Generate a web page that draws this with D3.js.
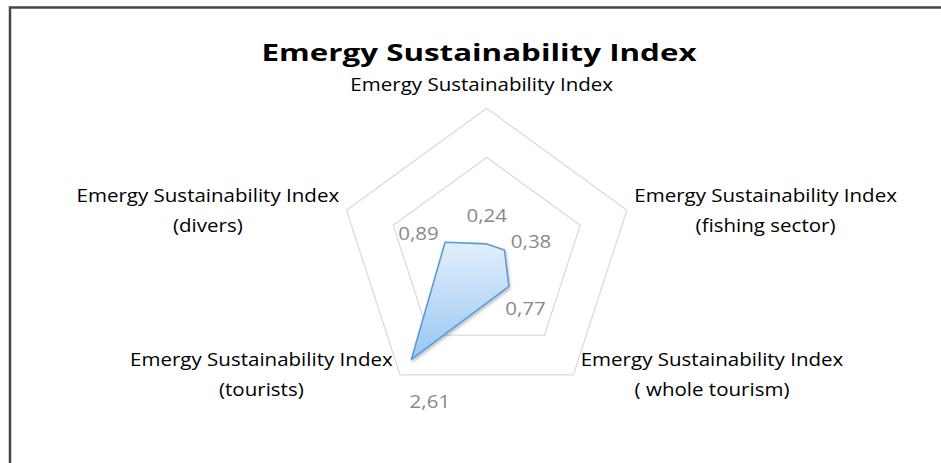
<!DOCTYPE html>
<html lang="en">
<head>
  <meta charset="utf-8">
  <script src="https://cdn.jsdelivr.net/npm/d3@7"></script>
</head>
<style>
  body{margin:0;background:#fff;}
  text{font-family:"Open Sans",sans-serif;}
</style>
<body>
  <div id="chart"></div>
  <script type="text/javascript">
    // data
    var title="Emergy Sustainability Index";
    var categories=[
      ["Emergy Sustainability Index"],
      ["Emergy Sustainability Index","(fishing sector)"],
      ["Emergy Sustainability Index","( whole tourism)"],
      ["Emergy Sustainability Index","(tourists)"],
      ["Emergy Sustainability Index","(divers)"]
    ];
    var values=[0.24,0.38,0.77,2.61,0.89];
    var gridTicks=[2,3];

    var width=941;
    var height=463;
    var cx=486.7;
    var cy=255.7;
    var radius=147.4;
    var sx=1.14; //labels are a bit wider than the font

    var svg=d3.select("#chart")
      .append("svg")
      .attr("width",width)
      .attr("height",height);

    var defs=svg.append("defs");
    var grad=defs.append("linearGradient")
      .attr("id","fillGrad")
      .attr("x1",0).attr("y1",0).attr("x2",0).attr("y2",1);
    grad.append("stop").attr("offset","0%").attr("stop-color","#e2effc");
    grad.append("stop").attr("offset","100%").attr("stop-color","#98c7f3");

    var shadow=defs.append("filter").attr("id","shadow")
      .attr("x","-20%").attr("y","-20%").attr("width","140%").attr("height","140%");
    shadow.append("feDropShadow")
      .attr("dx",1).attr("dy",2).attr("stdDeviation",1.5)
      .attr("flood-color","#000").attr("flood-opacity",0.25);

    // chart border
    svg.append("rect")
      .attr("x",10)
      .attr("y",7.5)
      .attr("width",960)
      .attr("height",480)
      .attr("fill","none")
      .attr("stroke","#464646")
      .attr("stroke-width",2.5);

    var r=d3.scaleLinear().domain([0,3]).range([0,radius]);
    var angle=d3.scaleLinear().domain([0,categories.length]).range([0,2*Math.PI]);

    function pt(i,v){
      var a=angle(i);
      return [cx+r(v)*Math.sin(a),cy-r(v)*Math.cos(a)];
    }

    // grid rings
    svg.append("g")
      .selectAll("polygon")
      .data(gridTicks)
      .enter()
      .append("polygon")
      .attr("points",function(t){
        return categories.map(function(c,i){return pt(i,t).join(",");}).join(" ");
      })
      .attr("fill","none")
      .attr("stroke","#d9d9d9")
      .attr("stroke-width",1.2);

    // series
    var line=d3.line().curve(d3.curveLinearClosed);
    svg.append("path")
      .datum(values)
      .attr("d",function(d){return line(d.map(function(v,i){return pt(i,v);}));})
      .attr("fill","url(#fillGrad)")
      .attr("stroke","#5b9bd9")
      .attr("stroke-width",1.6)
      .attr("stroke-linejoin","round")
      .attr("filter","url(#shadow)");

    // data labels
    var fmt=d3.formatLocale({decimal:",",thousands:".",grouping:[3],currency:["",""]}).format(".2f");
    var labelNudge={3:[35,19]};
    svg.append("g")
      .selectAll("text")
      .data(values)
      .enter()
      .append("text")
      .attr("transform",function(v,i){
        var a=angle(i);
        var x=pt(i,v)[0]+28*Math.sin(a)+(labelNudge[i]?labelNudge[i][0]:0);
        var y=pt(i,v)[1]-28*Math.cos(a)+(labelNudge[i]?labelNudge[i][1]:0)+6.5;
        return "translate("+x+","+y+") scale("+sx+",1)";
      })
      .attr("text-anchor","middle")
      .style("font-size","18px")
      .attr("fill","#8a8a8a")
      .text(function(v){return fmt(v);});

    // category labels
    var catG=svg.append("g");
    categories.forEach(function(lines,i){
      var a=angle(i);
      var v=pt(i,3);
      var t=catG.append("text")
        .attr("text-anchor","middle")
        .style("font-size","18px")
        .attr("fill","#000");
      var n=lines.length;
      lines.forEach(function(s,k){
        t.append("tspan")
          .attr("x",0)
          .attr("y",n==1?-17:-(n-1)*15+k*30+6.5)
          .text(s);
      });
      var w=t.node().getBBox().width*sx;
      var x;
      if(Math.sin(a)>0.1){x=v[0]+7+w/2;}
      else if(Math.sin(a)<-0.1){x=v[0]-7-w/2;}
      else{x=v[0]-5;}
      t.attr("transform","translate("+x+","+v[1]+") scale("+sx+",1)");
    });

    // title
    svg.append("text")
      .attr("x",479)
      .attr("y",61)
      .attr("text-anchor","middle")
      .attr("textLength",435)
      .attr("lengthAdjust","spacingAndGlyphs")
      .style("font-size","23px")
      .style("font-weight","bold")
      .attr("fill","#000")
      .text(title);
  </script>
</body>
</html>
